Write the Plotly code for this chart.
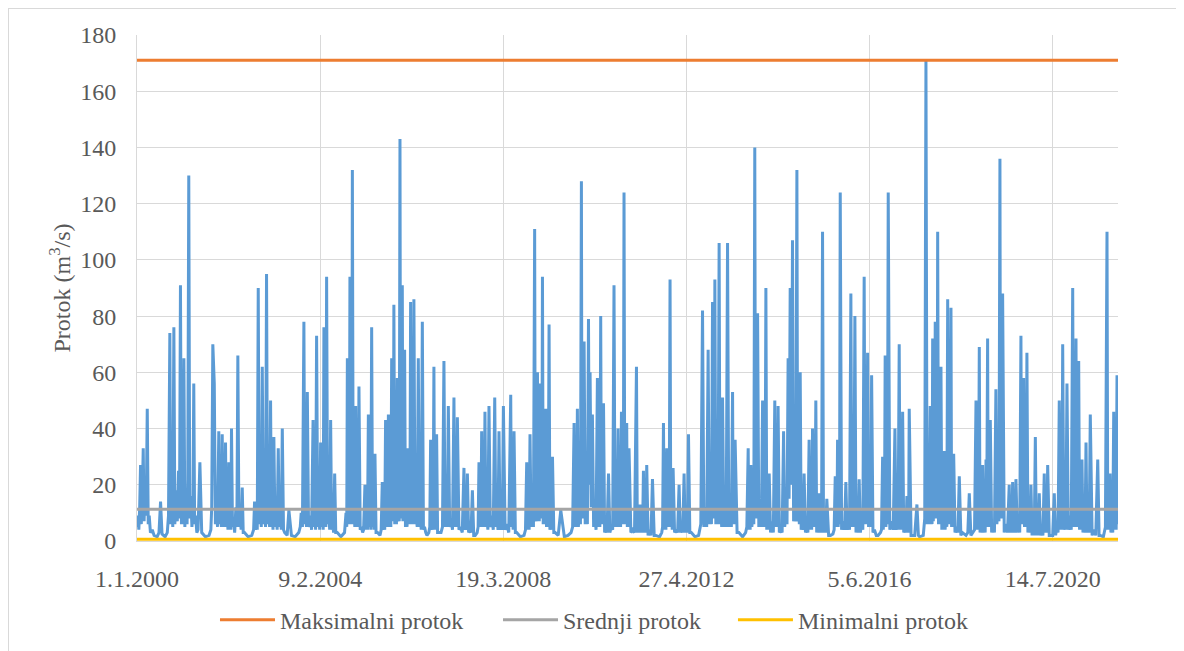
import pandas as pd
import plotly.graph_objects as go

# Daily flow record: (day counted from 1.1.2000, flow in m3/s)
flow_2000_2003 = [
    (0, 5), (8, 9), (15, 4), (22, 12), (29, 27), (35, 6), (43, 14), (51, 33), (58, 7), (66, 18),
    (75, 9), (84, 47), (92, 6), (100, 9), (110, 3), (125, 4), (140, 2), (165, 1.5), (180, 3), (193, 14),
    (205, 2.5), (230, 1.5), (248, 3), (258, 9), (269, 74), (276, 6), (285, 15), (293, 5), (302, 76), (310, 6),
    (320, 18), (330, 7), (340, 25), (348, 8), (356, 91), (364, 6), (370, 14), (377, 6), (384, 65), (392, 5),
    (400, 18), (410, 6), (416, 22), (424, 130), (432, 8), (440, 16), (450, 5), (458, 12), (465, 56), (472, 6),
    (480, 9), (490, 3), (500, 4), (515, 28), (530, 3), (560, 1.5), (590, 2), (605, 4), (612, 12), (621, 70),
    (633, 56), (642, 6), (650, 10), (660, 5), (670, 39), (677, 6), (684, 13), (691, 5), (698, 38), (705, 5),
    (712, 12), (718, 5), (725, 35), (731, 5), (738, 10), (745, 4), (752, 28), (758, 5), (764, 9), (769, 4),
    (774, 40), (782, 5), (790, 8), (800, 3), (810, 12), (818, 5), (826, 66), (835, 5), (845, 9), (853, 4),
    (862, 19), (870, 3), (880, 3), (910, 1.5), (940, 2), (955, 4), (963, 14), (970, 4), (978, 8), (985, 4),
    (993, 90), (1001, 6), (1010, 15), (1018, 5), (1026, 62), (1035, 6), (1045, 12), (1053, 5), (1061, 95), (1069, 6),
    (1078, 14), (1086, 5), (1094, 50), (1101, 5), (1108, 10), (1114, 4), (1121, 37), (1130, 5), (1140, 10), (1148, 4),
    (1157, 33), (1165, 5), (1174, 9), (1182, 4), (1190, 40), (1200, 4), (1210, 3), (1230, 2), (1244, 11), (1265, 2),
    (1295, 1.5), (1325, 3), (1337, 5), (1345, 10), (1355, 5), (1367, 78), (1374, 6), (1380, 12), (1388, 5), (1395, 53),
    (1405, 5), (1420, 9), (1430, 4), (1442, 43), (1449, 5), (1456, 10),
]
flow_2004_2007 = [
    (1463, 4), (1471, 73), (1480, 5), (1488, 12), (1496, 4), (1504, 35), (1511, 5), (1518, 10), (1525, 4), (1531, 76),
    (1537, 6), (1542, 15), (1547, 5), (1553, 94), (1561, 6), (1570, 12), (1578, 4), (1586, 43), (1594, 4), (1602, 8),
    (1610, 3), (1619, 24), (1628, 3), (1640, 3), (1670, 1.5), (1700, 3), (1712, 10), (1718, 5), (1723, 65), (1729, 6),
    (1734, 15), (1739, 6), (1744, 94), (1749, 6), (1754, 18), (1759, 6), (1764, 132), (1771, 6), (1778, 12), (1784, 5),
    (1791, 48), (1798, 5), (1805, 11), (1811, 5), (1818, 55), (1828, 4), (1840, 5), (1848, 3), (1856, 4), (1867, 20),
    (1874, 4), (1881, 8), (1888, 4), (1895, 45), (1901, 5), (1908, 10), (1915, 4), (1922, 76), (1929, 5), (1936, 9),
    (1942, 4), (1949, 31), (1958, 3), (1970, 3), (1990, 2), (2000, 4), (2009, 21), (2015, 4), (2022, 7), (2029, 4),
    (2036, 43), (2042, 5), (2048, 10), (2053, 5), (2059, 45), (2065, 5), (2072, 10), (2079, 5), (2086, 65), (2090, 8),
    (2095, 14), (2099, 7), (2104, 84), (2111, 6), (2118, 12), (2125, 6), (2132, 58), (2137, 7), (2143, 14), (2148, 7),
    (2154, 143), (2159, 8), (2164, 17), (2168, 8), (2173, 91), (2178, 7), (2183, 14), (2187, 7), (2192, 68), (2199, 5),
    (2206, 10), (2212, 5), (2219, 33), (2224, 6), (2230, 11), (2235, 6), (2241, 85), (2248, 6), (2255, 12), (2261, 6),
    (2268, 86), (2277, 6), (2286, 10), (2295, 5), (2304, 65), (2312, 5), (2320, 9), (2328, 4), (2337, 78), (2346, 4),
    (2355, 5), (2365, 3), (2375, 2), (2390, 3), (2398, 5), (2405, 36), (2411, 4), (2418, 7), (2425, 4), (2432, 62),
    (2437, 5), (2443, 8), (2448, 4), (2454, 38), (2462, 3), (2470, 3), (2490, 3), (2502, 5), (2514, 64), (2523, 5),
    (2532, 10), (2541, 5), (2550, 48), (2561, 5), (2573, 8), (2584, 4), (2596, 51), (2603, 5), (2610, 10), (2617, 5),
    (2624, 44), (2637, 4), (2650, 5), (2664, 3), (2678, 26), (2685, 4), (2692, 7), (2699, 4), (2706, 24), (2716, 3),
    (2726, 4), (2736, 3), (2747, 18), (2758, 2), (2770, 2), (2786, 3), (2794, 5), (2801, 28), (2806, 5), (2812, 10),
    (2817, 5), (2823, 39), (2829, 5), (2836, 10), (2843, 5), (2850, 46), (2858, 5), (2866, 9), (2874, 4), (2883, 48),
    (2894, 5), (2906, 9), (2918, 4),
]
flow_2008_2011 = [
    (2930, 51), (2939, 5), (2948, 9), (2957, 4), (2965, 39), (2974, 4), (2983, 8), (2992, 4), (3001, 48), (3015, 4),
    (3030, 6), (3045, 3), (3061, 52), (3067, 5), (3074, 9), (3081, 4), (3088, 39), (3099, 3), (3110, 3), (3140, 1.5),
    (3170, 2), (3182, 4), (3192, 28), (3198, 4), (3205, 8), (3212, 4), (3219, 38), (3228, 5), (3238, 10), (3247, 5),
    (3257, 111), (3262, 7), (3268, 14), (3274, 7), (3280, 60), (3285, 7), (3290, 14), (3295, 7), (3301, 56), (3306, 8),
    (3311, 16), (3316, 8), (3321, 94), (3327, 6), (3334, 12), (3341, 6), (3348, 47), (3354, 5), (3361, 11), (3368, 5),
    (3375, 77), (3382, 4), (3390, 8), (3396, 4), (3403, 30), (3414, 3), (3425, 3), (3450, 2), (3471, 11), (3500, 1.5),
    (3530, 2), (3555, 3), (3568, 5), (3580, 42), (3586, 5), (3593, 9), (3600, 5), (3607, 47), (3615, 5), (3624, 11),
    (3632, 6), (3640, 128), (3645, 8), (3651, 16), (3656, 8), (3662, 71), (3671, 6), (3680, 12), (3689, 6), (3698, 79),
    (3704, 20), (3711, 60), (3720, 12), (3730, 45), (3740, 5), (3750, 9), (3760, 4), (3771, 58), (3778, 5), (3785, 11),
    (3791, 5), (3798, 80), (3804, 6), (3810, 12), (3815, 6), (3821, 49), (3830, 3), (3840, 5), (3850, 3), (3862, 24),
    (3873, 3), (3885, 5), (3896, 4), (3907, 91), (3915, 5), (3924, 10), (3932, 5), (3940, 40), (3947, 5), (3954, 11),
    (3961, 5), (3968, 46), (3973, 6), (3978, 12), (3983, 6), (3989, 124), (3995, 7), (4000, 14), (4005, 6), (4011, 42),
    (4016, 5), (4020, 11), (4025, 5), (4030, 33), (4045, 3), (4060, 4), (4075, 3), (4091, 62), (4098, 3), (4105, 5),
    (4112, 3), (4120, 13), (4127, 3), (4134, 5), (4141, 3), (4148, 25), (4155, 3), (4162, 6), (4168, 3), (4175, 27),
    (4186, 2), (4198, 4), (4210, 2), (4222, 22), (4236, 2), (4250, 2), (4280, 1.5), (4298, 3), (4305, 5), (4312, 42),
    (4319, 4), (4326, 8), (4332, 4), (4339, 33), (4345, 5), (4352, 9), (4359, 5),
]
flow_2012_2015 = [
    (4366, 93), (4372, 5), (4378, 10), (4384, 4), (4391, 26), (4403, 3), (4415, 4), (4428, 3), (4440, 20), (4450, 3),
    (4460, 5), (4470, 3), (4481, 24), (4490, 3), (4500, 6), (4508, 3), (4517, 38), (4528, 3), (4540, 3), (4570, 1.5),
    (4600, 2), (4618, 6), (4632, 82), (4643, 5), (4655, 12), (4666, 5), (4678, 68), (4687, 6), (4696, 14), (4705, 6),
    (4714, 85), (4719, 8), (4724, 16), (4728, 8), (4733, 93), (4741, 6), (4750, 12), (4759, 6), (4768, 106), (4775, 6),
    (4782, 12), (4789, 5), (4796, 51), (4806, 5), (4816, 10), (4826, 5), (4837, 106), (4847, 5), (4858, 10), (4868, 5),
    (4878, 53), (4883, 6), (4889, 12), (4894, 6), (4899, 36), (4915, 3), (4930, 3), (4960, 1.5), (4985, 3), (4995, 5),
    (5006, 33), (5011, 4), (5017, 8), (5022, 4), (5028, 27), (5036, 5), (5044, 10), (5052, 6), (5060, 140), (5066, 8),
    (5072, 17), (5077, 8), (5083, 81), (5093, 5), (5104, 10), (5114, 5), (5124, 50), (5131, 5), (5138, 11), (5144, 5),
    (5151, 90), (5158, 4), (5165, 9), (5171, 4), (5178, 24), (5189, 3), (5200, 7), (5212, 3), (5224, 50), (5231, 5),
    (5238, 10), (5244, 5), (5251, 48), (5261, 3), (5272, 4), (5284, 3), (5296, 39), (5305, 5), (5315, 10), (5324, 6),
    (5333, 65), (5341, 15), (5350, 90), (5360, 20), (5369, 107), (5378, 7), (5388, 14), (5396, 7), (5405, 132), (5411, 7),
    (5418, 14), (5425, 6), (5432, 60), (5440, 4), (5448, 8), (5456, 4), (5464, 24), (5475, 3), (5485, 5), (5495, 3),
    (5505, 36), (5512, 4), (5519, 9), (5526, 4), (5533, 40), (5540, 5), (5547, 10), (5553, 5), (5560, 50), (5567, 3),
    (5574, 5), (5580, 3), (5587, 17), (5593, 3), (5600, 5), (5607, 3), (5615, 110), (5623, 3), (5632, 5), (5641, 3),
    (5650, 15), (5665, 2), (5680, 2), (5700, 2.5), (5710, 4), (5719, 23), (5723, 5), (5728, 10), (5733, 5), (5738, 36),
    (5743, 5), (5749, 11), (5754, 6), (5760, 124), (5771, 4), (5783, 7), (5795, 4), (5806, 21), (5816, 4),
]
flow_2016_2019 = [
    (5826, 9), (5836, 4), (5847, 88), (5855, 5), (5863, 12), (5871, 5), (5880, 80), (5889, 3), (5898, 6), (5906, 3),
    (5915, 22), (5925, 3), (5935, 7), (5945, 4), (5956, 94), (5963, 6), (5970, 14), (5977, 6), (5984, 67), (5992, 5),
    (6000, 12), (6008, 5), (6017, 59), (6028, 3), (6040, 4), (6055, 2), (6070, 2), (6090, 3), (6098, 4), (6107, 30),
    (6112, 4), (6117, 8), (6122, 5), (6128, 66), (6134, 5), (6140, 12), (6146, 6), (6153, 124), (6166, 4), (6180, 7),
    (6194, 4), (6208, 40), (6217, 4), (6226, 9), (6234, 4), (6243, 70), (6250, 4), (6257, 9), (6264, 4), (6271, 46),
    (6280, 3), (6290, 5), (6298, 3), (6306, 16), (6311, 3), (6316, 5), (6320, 3), (6325, 47), (6340, 2), (6355, 2),
    (6370, 2), (6388, 13), (6400, 2), (6410, 1.5), (6440, 2), (6452, 8), (6462, 171), (6471, 6), (6480, 14), (6488, 6),
    (6497, 48), (6502, 6), (6507, 14), (6512, 6), (6517, 72), (6522, 7), (6528, 17), (6533, 8), (6538, 78), (6543, 8),
    (6548, 20), (6553, 8), (6558, 110), (6565, 6), (6572, 14), (6578, 6), (6585, 62), (6592, 4), (6598, 9), (6605, 4),
    (6612, 32), (6619, 4), (6626, 10), (6633, 5), (6640, 86), (6647, 6), (6653, 14), (6660, 6), (6667, 83), (6672, 5),
    (6678, 11), (6683, 5), (6689, 31), (6700, 3), (6712, 5), (6724, 3), (6735, 23), (6748, 2), (6760, 3), (6790, 2),
    (6805, 3), (6817, 17), (6830, 2), (6845, 3), (6860, 4), (6872, 50), (6879, 4), (6886, 10), (6892, 4), (6899, 69),
    (6905, 3), (6912, 7), (6919, 3), (6926, 27), (6933, 3), (6940, 7), (6947, 3), (6954, 29), (6960, 12), (6967, 72),
    (6972, 5), (6978, 11), (6983, 5), (6989, 43), (7000, 3), (7012, 6), (7023, 3), (7035, 54), (7043, 6), (7052, 14),
    (7060, 7), (7068, 136), (7073, 8), (7079, 20), (7084, 8), (7090, 88), (7103, 3), (7117, 6), (7130, 3), (7144, 20),
    (7151, 3), (7158, 6), (7165, 3), (7172, 21), (7179, 3), (7186, 6), (7192, 3), (7199, 22), (7210, 3), (7220, 7),
    (7230, 3), (7240, 73), (7245, 6), (7251, 14), (7256, 6), (7262, 58), (7269, 5), (7276, 11), (7282, 5),
]
flow_2020_2021 = [
    (7289, 67), (7297, 3), (7306, 7), (7314, 3), (7322, 20), (7331, 2), (7340, 5), (7349, 2), (7358, 37), (7366, 2),
    (7374, 5), (7382, 2), (7390, 17), (7400, 2), (7410, 4), (7420, 2), (7431, 24), (7438, 3), (7445, 6), (7452, 3),
    (7459, 27), (7472, 2), (7486, 2), (7500, 2), (7513, 17), (7524, 2), (7534, 5), (7544, 3), (7554, 50), (7561, 4),
    (7568, 10), (7575, 4), (7582, 70), (7591, 4), (7600, 9), (7608, 4), (7617, 56), (7628, 4), (7640, 9), (7652, 4),
    (7664, 90), (7671, 5), (7678, 12), (7684, 5), (7691, 72), (7696, 5), (7702, 12), (7707, 5), (7713, 64), (7720, 4),
    (7727, 9), (7733, 4), (7740, 29), (7748, 3), (7757, 7), (7765, 3), (7773, 35), (7781, 3), (7790, 6), (7799, 3),
    (7808, 45), (7823, 2), (7838, 4), (7853, 2), (7869, 29), (7880, 2), (7890, 2), (7915, 1.5), (7932, 5), (7945, 110),
    (7951, 4), (7958, 9), (7964, 4), (7970, 24), (7977, 3), (7985, 7), (7992, 3), (8000, 46), (8007, 4), (8014, 10),
    (8020, 4), (8027, 59), (8035, 6),
]

# Reference levels (m3/s)
max_flow = 171
mean_flow = 11.3
min_flow = 0.6

# Axis ticks and texts
tick_days = [0, 1500, 3000, 4500, 6000, 7500]
tick_labels = ["1.1.2000", "9.2.2004", "19.3.2008", "27.4.2012", "5.6.2016", "14.7.2020"]
y_ticks = [0, 20, 40, 60, 80, 100, 120, 140, 160, 180]
series_names = ["Maksimalni protok", "Srednji protok", "Minimalni protok"]
series_colors = ["#ED7D31", "#A5A5A5", "#FFC000"]
y_title = "Protok (m<sup>3</sup>/s)"

records = (flow_2000_2003 + flow_2004_2007 + flow_2008_2011 + flow_2012_2015
           + flow_2016_2019 + flow_2020_2021)
origin = pd.Timestamp("2000-01-01")
dates = [origin + pd.Timedelta(days=d) for d, _ in records]
flow = [v for _, v in records]
tick_dates = [origin + pd.Timedelta(days=d) for d in tick_days]
start, end = dates[0], dates[-1]

FONT = "Liberation Serif"
FS = 24
TXT = "#595959"
GRID = "#D9D9D9"

fig = go.Figure()
fig.add_trace(go.Scatter(x=dates, y=flow, mode="lines", showlegend=False,
                         line=dict(color="#5B9BD5", width=3)))
legend_ids = ["legend", "legend2", "legend3"]
for name, val, col, lg in zip(series_names, [max_flow, mean_flow, min_flow], series_colors, legend_ids):
    fig.add_trace(go.Scatter(x=[start, end], y=[val, val], mode="lines", name=name,
                             legend=lg, line=dict(color=col, width=3)))

leg_common = dict(orientation="h", yref="container", y=0.048, yanchor="middle", xanchor="left",
                  font=dict(family=FONT, size=FS, color=TXT), itemwidth=55,
                  bgcolor="rgba(0,0,0,0)")
fig.update_layout(
    width=1176, height=643,
    margin=dict(l=129, r=66, t=27, b=110, autoexpand=False),
    paper_bgcolor="white", plot_bgcolor="white",
    font=dict(family=FONT, size=FS, color=TXT),
    legend=dict(x=0.0795, **leg_common),
    legend2=dict(x=0.368, **leg_common),
    legend3=dict(x=0.6075, **leg_common),
    shapes=[
        dict(type="line", xref="paper", yref="paper", x0=-0.1315, x1=1.07, y0=1.0524, y1=1.0524,
             line=dict(color="#D9D9D9", width=1)),
        dict(type="line", xref="paper", yref="paper", x0=-0.1310, x1=-0.1310, y0=1.0524, y1=-0.22,
             line=dict(color="#D9D9D9", width=1)),
    ],
)
fig.update_xaxes(range=[start, end], tickvals=tick_dates, ticktext=tick_labels,
                 showgrid=True, gridcolor=GRID, gridwidth=1, zeroline=False,
                 showline=True, linecolor=GRID, linewidth=1, ticks="", automargin=False,
                 ticklabelstandoff=16, tickfont=dict(family=FONT, size=FS, color=TXT))
fig.update_yaxes(range=[0, 180], tickvals=y_ticks, showgrid=True, gridcolor=GRID,
                 gridwidth=1, zeroline=False, showline=True, linecolor=GRID, linewidth=1,
                 ticks="", ticklabelstandoff=15, automargin=False,
                 tickfont=dict(family=FONT, size=FS, color=TXT),
                 title=dict(text=y_title, standoff=2, font=dict(family=FONT, size=FS, color=TXT)))

fig.write_html("out.html")
